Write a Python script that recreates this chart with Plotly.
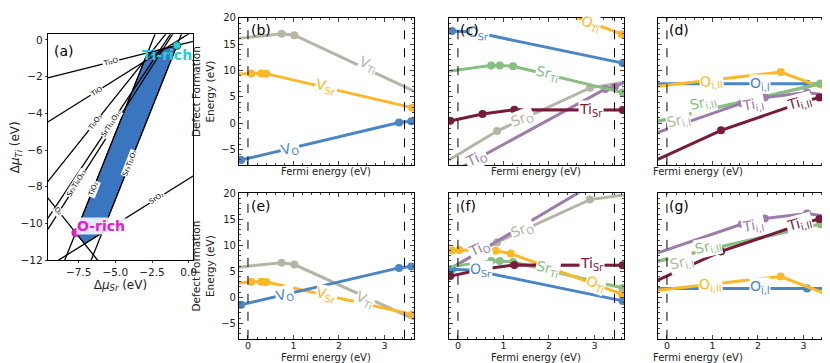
import math
import plotly.graph_objects as go

W, H = 830, 363
FONT = "DejaVu Sans"

BLUE = "#4A86C6"; ORANGE = "#FDB827"; GRAY = "#B5B4A6"; GREEN = "#86BF7F"
DRED = "#781A3A"; PURPLE = "#9D7BAB"
REGION_BLUE = "#3A76C0"; CYAN = "#22D0DC"; MAGENTA = "#E81CC8"

# ---------------- panel (a): chemical potential diagram ----------------
pd_names = ["Ti₂O", "TiO", "Ti₂O₃", "SrTi₁₁O₂₀", "Sr₂Ti₆O₁₃", "TiO₂", "Sr₃Ti₂O₇", "SrO₂", "O₂"]
pd_slope = [0.2, 0.5, 1.0, 1.2, 1.25, 2.0, 2.0, 0.5, -1.0]
pd_icpt = [-0.15, 0.33, 1.88, 1.8, 1.68, 4.9, 1.3, -7.56, -18.2]
pd_label_x = [-5.3, -6.3, -6.4, -5.3, -7.6, -6.5, -4.0, -2.15, -8.85]
mu_sr_range = [-9.6, 0.3]
mu_ti_range = [-12, 0.3]
mu_sr_ticks = [-7.5, -5.0, -2.5, 0.0]
mu_ti_ticks = [0, -2, -4, -6, -8, -10, -12]

# ---------------- defect formation energies ----------------
fermi_range = [-0.2, 3.65]
band_edges = [0.0, 3.44]
E_range = [-8, 20]

# vacancies (b: Ti-rich, e: O-rich)
fermi_VO = [-0.2, -0.15, 3.32, 3.59, 3.65]
E_VO_b = [-7.1, -7.0, 0.1, 0.35, 0.35]
E_VO_e = [-1.55, -1.45, 5.65, 5.9, 5.9]
mk_VO = [1, 2, 3]

fermi_VSr = [-0.2, 0.07, 0.29, 0.40, 3.61, 3.65]
E_VSr_b = [9.35, 9.45, 9.45, 9.4, 2.9, 2.85]
E_VSr_e = [2.75, 3.0, 3.0, 2.95, -3.3, -3.4]
mk_VSr = [1, 2, 3, 4]

fermi_VTi = [-0.2, 0.74, 1.02, 3.65]
E_VTi_b = [16.1, 17.0, 16.7, 6.1]
E_VTi_e = [5.8, 6.65, 6.3, -4.2]
mk_VTi = [1, 2]

# antisites (c: Ti-rich, f: O-rich)
fermi_OSr = [-0.2, -0.13, 0.35, 3.62, 3.65]
E_OSr_c = [17.5, 17.5, 17.3, 11.4, 11.35]
E_OSr_f = [5.4, 5.4, 5.2, -0.7, -0.75]
mk_OSr = [1, 3]

fermi_OTi = [-0.2, -0.13, 0.03, 0.83, 1.16, 3.6, 3.65]
E_OTi_c = [25.25, 25.3, 25.4, 25.25, 24.7, 16.9, 16.8]
E_OTi_f = [8.95, 9.0, 9.1, 8.95, 8.4, 0.6, 0.5]
mk_OTi = [1, 2, 3, 4, 5]

fermi_SrTi = [-0.2, 0.73, 0.92, 1.21, 3.62, 3.65]
E_SrTi_c = [9.85, 10.97, 10.97, 10.8, 5.8, 5.75]
E_SrTi_f = [5.85, 6.97, 6.97, 6.8, 1.8, 1.75]
mk_SrTi = [1, 2, 3, 4]

fermi_TiSr = [-0.2, -0.17, 0.54, 1.24, 3.62, 3.65]
E_TiSr_c = [0.37, 0.43, 1.74, 2.56, 2.5, 2.5]
E_TiSr_f = [4.02, 4.08, 5.39, 6.21, 6.15, 6.15]
mk_TiSr = [1, 2, 3, 4]

fermi_SrO = [-0.2, 0.86, 2.9, 3.65]
E_SrO_c = [-7.0, -1.5, 6.7, 7.7]
E_SrO_f = [5.4, 10.6, 18.8, 19.7]
mk_SrO = [1, 2]

fermi_TiO = [-0.2, 3.24, 3.45, 3.65]
E_TiO_c = [-9.7, 6.5, 6.9, 7.7]
E_TiO_f = [5.3, 23.2, 23.6, 24.4]
mk_TiO = [1, 2]

# interstitials (d: Ti-rich, g: O-rich)
fermi_OiI = [-0.2, 3.08, 3.62, 3.65]
E_OiI_d = [7.5, 7.5, 7.5, 7.5]
E_OiI_g = [1.7, 1.7, 1.7, 1.7]
mk_OiI = [1, 2]

fermi_OiII = [-0.2, 2.5, 3.65]
E_OiII_d = [7.0, 9.7, 6.0]
E_OiII_g = [1.35, 4.0, 0.1]
mk_OiII = [1]

fermi_Sri = [-0.2, 3.37, 3.65]
E_SriII_d = [0.4, 7.53, 7.9]
E_SriII_g = [7.0, 14.13, 14.5]
E_SriI_d = [0.3, 7.43, 7.8]
E_SriI_g = [6.9, 14.03, 14.4]
mk_Sri = [1]

fermi_TiiI = [-0.2, 1.65, 2.15, 3.08, 3.65]
E_TiiI_d = [-1.75, 3.8, 4.86, 5.8, 5.2]
E_TiiI_g = [8.55, 14.1, 15.16, 16.1, 15.4]
mk_TiiI = [1, 2, 3]

fermi_TiiII = [-0.2, 1.19, 3.08, 3.35, 3.65]
E_TiiII_d = [-6.9, -1.37, 4.24, 4.86, 5.0]
E_TiiII_g = [3.3, 8.83, 14.44, 15.06, 15.2]
mk_TiiII = [1, 2, 3]

# ---------------- layout geometry (pixels) ----------------
panel_px = {
    "a": ((40, 186), (22, 255)),
    "b": ((232, 408), (5, 157)),
    "c": ((443, 619), (5, 157)),
    "d": ((653, 829), (5, 157)),
    "e": ((232, 408), (186, 336)),
    "f": ((443, 619), (186, 336)),
    "g": ((653, 829), (186, 336)),
}
axis_id = {"a": "", "b": "2", "c": "3", "d": "4", "e": "5", "f": "6", "g": "7"}


def xdom(p):
    (l, r), _ = panel_px[p]
    return [l / W, r / W]


def ydom(p):
    _, (t, b) = panel_px[p]
    return [1 - b / H, 1 - t / H]


fig = go.Figure()
annotations = []
shapes = []

# ---------------- panel (a) ----------------
def inter(i, j):
    x = (pd_icpt[j] - pd_icpt[i]) / (pd_slope[i] - pd_slope[j])
    return x, pd_slope[i] * x + pd_icpt[i]

iTi2O, iTiO2, iSTO327, iSrO2, iO2 = 0, 5, 6, 7, 8
A = inter(iTiO2, iO2)
B = inter(iO2, iSrO2)
Cc = inter(iSrO2, iSTO327)
T = inter(iSTO327, iTi2O)
D = inter(iTi2O, iTiO2)
poly = [A, B, Cc, T, D, A]
fig.add_trace(go.Scatter(x=[p[0] for p in poly], y=[p[1] for p in poly], mode="lines",
                         fill="toself", fillcolor=REGION_BLUE, line=dict(color="black", width=1),
                         xaxis="x", yaxis="y", showlegend=False, hoverinfo="skip"))
for m, c in zip(pd_slope, pd_icpt):
    xs = mu_sr_range
    fig.add_trace(go.Scatter(x=xs, y=[m * x + c for x in xs], mode="lines",
                             line=dict(color="black", width=1.3), xaxis="x", yaxis="y",
                             showlegend=False, hoverinfo="skip"))
(al, ar), (at, ab) = panel_px["a"]
ppu_x_a = (ar - al) / (mu_sr_range[1] - mu_sr_range[0])
ppu_y_a = (ab - at) / (mu_ti_range[1] - mu_ti_range[0])
for name, m, c, lx in zip(pd_names, pd_slope, pd_icpt, pd_label_x):
    ang = -math.degrees(math.atan(m * ppu_y_a / ppu_x_a))
    annotations.append(dict(x=lx, y=m * lx + c, xref="x", yref="y", text=name, showarrow=False,
                            textangle=ang, font=dict(size=7, color="black", family=FONT),
                            bgcolor="white", borderpad=0))
fig.add_trace(go.Scatter(x=[A[0]], y=[A[1]], mode="markers", xaxis="x", yaxis="y",
                         marker=dict(color=MAGENTA, size=8, line=dict(color="#444", width=0.5)),
                         showlegend=False))
fig.add_trace(go.Scatter(x=[T[0]], y=[T[1]], mode="markers", xaxis="x", yaxis="y",
                         marker=dict(color=CYAN, size=8, line=dict(color="#333", width=0.8)),
                         showlegend=False, cliponaxis=False))
annotations.append(dict(x=-5.95, y=-10.15, xref="x", yref="y", text="<b>O-rich</b>", showarrow=False,
                        font=dict(size=14, color=MAGENTA, family=FONT), bgcolor="rgba(255,255,255,0.85)",
                        borderpad=0))
annotations.append(dict(x=-1.5, y=-0.85, xref="x", yref="y", text="<b>Ti-rich</b>", showarrow=False,
                        font=dict(size=14, color=CYAN, family=FONT), borderpad=0))
annotations.append(dict(x=0.03, y=0.97, xref="x domain", yref="y domain", text="(a)", showarrow=False,
                        xanchor="left", yanchor="top", font=dict(size=14, color="black", family=FONT)))

# ---------------- defect panels ----------------
panel_series = {
    "b": [("V<sub>Ti</sub>", GRAY, fermi_VTi, E_VTi_b, mk_VTi),
          ("V<sub>Sr</sub>", ORANGE, fermi_VSr, E_VSr_b, mk_VSr),
          ("V<sub>O</sub>", BLUE, fermi_VO, E_VO_b, mk_VO)],
    "e": [("V<sub>Ti</sub>", GRAY, fermi_VTi, E_VTi_e, mk_VTi),
          ("V<sub>Sr</sub>", ORANGE, fermi_VSr, E_VSr_e, mk_VSr),
          ("V<sub>O</sub>", BLUE, fermi_VO, E_VO_e, mk_VO)],
    "c": [("Sr<sub>O</sub>", GRAY, fermi_SrO, E_SrO_c, mk_SrO),
          ("Ti<sub>O</sub>", PURPLE, fermi_TiO, E_TiO_c, mk_TiO),
          ("O<sub>Ti</sub>", ORANGE, fermi_OTi, E_OTi_c, mk_OTi),
          ("O<sub>Sr</sub>", BLUE, fermi_OSr, E_OSr_c, mk_OSr),
          ("Sr<sub>Ti</sub>", GREEN, fermi_SrTi, E_SrTi_c, mk_SrTi),
          ("Ti<sub>Sr</sub>", DRED, fermi_TiSr, E_TiSr_c, mk_TiSr)],
    "f": [("Sr<sub>O</sub>", GRAY, fermi_SrO, E_SrO_f, mk_SrO),
          ("Ti<sub>O</sub>", PURPLE, fermi_TiO, E_TiO_f, mk_TiO),
          ("O<sub>Sr</sub>", BLUE, fermi_OSr, E_OSr_f, mk_OSr),
          ("Sr<sub>Ti</sub>", GREEN, fermi_SrTi, E_SrTi_f, mk_SrTi),
          ("O<sub>Ti</sub>", ORANGE, fermi_OTi, E_OTi_f, mk_OTi),
          ("Ti<sub>Sr</sub>", DRED, fermi_TiSr, E_TiSr_f, mk_TiSr)],
    "d": [("Sr<sub>i,I</sub>", GRAY, fermi_Sri, E_SriI_d, mk_Sri),
          ("O<sub>i,I</sub>", BLUE, fermi_OiI, E_OiI_d, mk_OiI),
          ("O<sub>i,II</sub>", ORANGE, fermi_OiII, E_OiII_d, mk_OiII),
          ("Sr<sub>i,II</sub>", GREEN, fermi_Sri, E_SriII_d, mk_Sri),
          ("Ti<sub>i,I</sub>", PURPLE, fermi_TiiI, E_TiiI_d, mk_TiiI),
          ("Ti<sub>i,II</sub>", DRED, fermi_TiiII, E_TiiII_d, mk_TiiII)],
    "g": [("Sr<sub>i,I</sub>", GRAY, fermi_Sri, E_SriI_g, mk_Sri),
          ("O<sub>i,I</sub>", BLUE, fermi_OiI, E_OiI_g, mk_OiI),
          ("O<sub>i,II</sub>", ORANGE, fermi_OiII, E_OiII_g, mk_OiII),
          ("Sr<sub>i,II</sub>", GREEN, fermi_Sri, E_SriII_g, mk_Sri),
          ("Ti<sub>i,I</sub>", PURPLE, fermi_TiiI, E_TiiI_g, mk_TiiI),
          ("Ti<sub>i,II</sub>", DRED, fermi_TiiII, E_TiiII_g, mk_TiiII)],
}

# inline label placement: (text, color, fermi, energy, angle)
panel_labels = {
    "b": [("V<sub>Ti</sub>", GRAY, 2.64, 11.0, 25), ("V<sub>Sr</sub>", ORANGE, 1.73, 6.9, 13),
          ("V<sub>O</sub>", BLUE, 0.93, -4.9, -13)],
    "e": [("V<sub>Ti</sub>", GRAY, 2.57, -0.5, 25), ("V<sub>Sr</sub>", ORANGE, 1.73, 0.43, 13),
          ("V<sub>O</sub>", BLUE, 0.82, 0.43, -13)],
    "c": [("O<sub>Sr</sub>", BLUE, 0.45, 17.2, 4), ("O<sub>Ti</sub>", ORANGE, 2.92, 18.75, 20),
          ("Sr<sub>Ti</sub>", GREEN, 1.97, 9.4, 13), ("Ti<sub>Sr</sub>", DRED, 2.92, 2.56, 0),
          ("Sr<sub>O</sub>", GRAY, 1.42, 0.7, -22), ("Ti<sub>O</sub>", PURPLE, 0.4, -6.8, -25)],
    "f": [("Ti<sub>O</sub>", PURPLE, 0.47, 9.3, -25), ("O<sub>Sr</sub>", BLUE, 0.51, 5.3, 3),
          ("Sr<sub>O</sub>", GRAY, 1.42, 12.9, -22), ("Sr<sub>Ti</sub>", GREEN, 1.97, 5.4, 13),
          ("Ti<sub>Sr</sub>", DRED, 2.95, 6.4, 0), ("O<sub>Ti</sub>", ORANGE, 3.03, 2.6, 20)],
    "d": [("O<sub>i,II</sub>", ORANGE, 0.98, 7.85, -5), ("O<sub>i,I</sub>", BLUE, 2.04, 7.5, 0),
          ("Sr<sub>i,II</sub>", GREEN, 0.8, 3.8, -13), ("Sr<sub>i,I</sub>", GRAY, 0.25, 0.37, -13),
          ("Ti<sub>i,I</sub>", PURPLE, 1.89, 3.5, -10), ("Ti<sub>i,II</sub>", DRED, 2.91, 3.8, -15)],
    "g": [("Ti<sub>i,I</sub>", PURPLE, 1.89, 13.8, -10), ("Ti<sub>i,II</sub>", DRED, 2.91, 14.1, -15),
          ("Sr<sub>i,II</sub>", GREEN, 0.91, 9.75, -13), ("Sr<sub>i,I</sub>", GRAY, 0.33, 6.65, -13),
          ("O<sub>i,II</sub>", ORANGE, 0.95, 2.3, -3), ("O<sub>i,I</sub>", BLUE, 2.04, 2.0, 0)],
}

for p, series in panel_series.items():
    k = axis_id[p]
    for name, col, xs, ys, mk in series:
        fig.add_trace(go.Scatter(x=xs, y=ys, mode="lines", line=dict(color=col, width=3),
                                 xaxis="x" + k, yaxis="y" + k, showlegend=False, hoverinfo="skip"))
        fig.add_trace(go.Scatter(x=[xs[i] for i in mk], y=[ys[i] for i in mk], mode="markers",
                                 marker=dict(color=col, size=8), xaxis="x" + k, yaxis="y" + k,
                                 showlegend=False, hoverinfo="skip"))
    for txt, col, lx, ly, ang in panel_labels[p]:
        annotations.append(dict(x=lx, y=ly, xref="x" + k, yref="y" + k, text=txt, showarrow=False,
                                textangle=ang, font=dict(size=14, color=col, family=FONT),
                                bgcolor="white", borderpad=0))
    for be in band_edges:
        shapes.append(dict(type="line", xref="x" + k, yref="y" + k + " domain", x0=be, x1=be, y0=0, y1=1,
                           line=dict(color="black", width=1, dash="dash")))
    annotations.append(dict(x=0.055, y=0.985, xref="x" + k + " domain", yref="y" + k + " domain",
                            text="(" + p + ")", showarrow=False, xanchor="left", yanchor="top",
                            font=dict(size=14, color="black", family=FONT)))
    (l, r), (t, b) = panel_px[p]
    if t < 100:
        annotations.append(dict(x=(l + r) / 2 / W, y=1 - 163 / H, xref="paper", yref="paper",
                                text="Fermi energy (eV)", showarrow=False, yanchor="middle",
                                font=dict(size=10, color="#222", family=FONT)))
    else:
        annotations.append(dict(x=(l + r) / 2 / W, y=1 - 362.5 / H, xref="paper", yref="paper",
                                text="Fermi energy (eV)", showarrow=False, yanchor="bottom",
                                font=dict(size=10, color="#222", family=FONT)))

layout = dict(width=W, height=H, margin=dict(l=0, r=0, t=0, b=0), paper_bgcolor="white",
              plot_bgcolor="white", font=dict(family=FONT, size=10, color="#222"),
              annotations=annotations, shapes=shapes, showlegend=False)

layout["xaxis"] = dict(domain=xdom("a"), range=mu_sr_range, anchor="y", tickvals=mu_sr_ticks,
                       ticktext=["−7.5", "−5.0", "−2.5", "0.0"], ticks="outside", ticklen=2,
                       showline=True, linecolor="black", linewidth=1, mirror=True, showgrid=False,
                       zeroline=False, tickfont=dict(size=10.5),
                       title=dict(text="Δ<i>μ</i><sub><i>Sr</i></sub> (eV)", standoff=2,
                                  font=dict(size=12)))
layout["yaxis"] = dict(domain=ydom("a"), range=mu_ti_range, anchor="x", tickvals=mu_ti_ticks,
                       ticktext=["0", "−2", "−4", "−6", "−8", "−10", "−12"], ticks="outside",
                       ticklen=2, showline=True, linecolor="black", linewidth=1, mirror=True,
                       showgrid=False, zeroline=False, tickfont=dict(size=10.5),
                       title=dict(text="Δ<i>μ</i><sub><i>Ti</i></sub> (eV)", standoff=3,
                                  font=dict(size=12)))

for p in ["b", "c", "d", "e", "f", "g"]:
    k = axis_id[p]
    bottom = p in ["e", "f", "g"]
    left = p in ["b", "e"]
    layout["xaxis" + k] = dict(domain=xdom(p), range=fermi_range, anchor="y" + k, tickvals=[0, 1, 2, 3],
                               showticklabels=bottom, ticks="inside", ticklen=4, showline=True,
                               linecolor="black", linewidth=1, mirror="allticks", showgrid=False,
                               zeroline=False, tickfont=dict(size=9.5), ticklabelstandoff=-2,
                               minor=dict(ticks="inside", ticklen=2, dtick=0.2, tick0=0, showgrid=False))
    yax = dict(domain=ydom(p), range=E_range, anchor="x" + k,
               tickvals=[-5, 0, 5, 10, 15, 20],
               ticktext=["−5", "0", "5", "10", "15", "20"],
               showticklabels=left, ticks="inside", ticklen=4, showline=True,
               linecolor="black", linewidth=1, mirror="allticks", showgrid=False,
               zeroline=False, tickfont=dict(size=10),
               minor=dict(ticks="inside", ticklen=2, dtick=1, tick0=0, showgrid=False))
    if left:
        yax["title"] = dict(text="Defect Formation<br>Energy (eV)", standoff=4, font=dict(size=10.5))
    layout["yaxis" + k] = yax

fig.update_layout(**layout)
fig.write_html("out.html")
